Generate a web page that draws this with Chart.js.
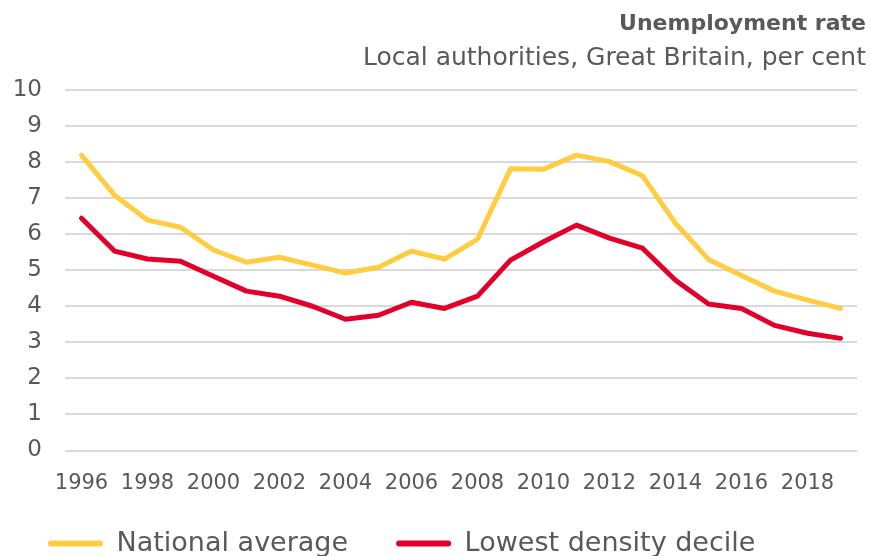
<!DOCTYPE html>
<html>
<head>
<meta charset="utf-8">
<script src="https://cdn.jsdelivr.net/npm/chart.js@4"></script>
<style>
  html, body { margin: 0; padding: 0; background: #fff; overflow: hidden; }
  #wrap { width: 870px; height: 556px; overflow: hidden; }
</style>
</head>
<body>
<div id="wrap"><canvas id="grafico" width="870" height="567"></canvas></div>
<script>
// data
const anos = ['1996', '1997', '1998', '1999', '2000', '2001', '2002', '2003', '2004', '2005', '2006', '2007',
  '2008', '2009', '2010', '2011', '2012', '2013', '2014', '2015', '2016', '2017', '2018', '2019'];
const mediaNacional = [8.19, 7.08, 6.39, 6.19, 5.56, 5.22, 5.36, 5.14, 4.92, 5.08, 5.53, 5.31,
  5.86, 7.81, 7.80, 8.19, 8.01, 7.62, 6.30, 5.30, 4.85, 4.42, 4.17, 3.94];
const menorDensidade = [6.44, 5.53, 5.31, 5.25, 4.83, 4.42, 4.28, 4.00, 3.64, 3.75, 4.11, 3.94,
  4.28, 5.28, 5.79, 6.25, 5.89, 5.61, 4.72, 4.06, 3.94, 3.47, 3.25, 3.11];
const yTicks = [0, 1, 2, 3, 4, 5, 6, 7, 8, 9, 10];

const fonte = "'DejaVu Sans', sans-serif";
const cinza = '#595959';
const amarelo = '#FFCD3F';
const vermelho = '#E2002B';

const data_linha = {
  labels: anos,
  datasets: [{
    label: 'National average',
    data: mediaNacional,
    borderColor: amarelo,
    backgroundColor: amarelo,
    borderWidth: 5,
    borderCapStyle: 'round',
    borderJoinStyle: 'round',
    pointRadius: 0,
    tension: 0
  }, {
    label: 'Lowest density decile',
    data: menorDensidade,
    borderColor: vermelho,
    backgroundColor: vermelho,
    borderWidth: 5,
    borderCapStyle: 'round',
    borderJoinStyle: 'round',
    pointRadius: 0,
    tension: 0
  }]
};

const config_linha = {
  type: 'line',
  data: data_linha,
  options: {
    responsive: false,
    animation: false,
    layout: { padding: { left: 0, right: 4, top: 0, bottom: 0 } },
    plugins: {
      title: {
        display: true,
        text: 'Unemployment rate',
        align: 'end',
        color: cinza,
        font: { family: fonte, size: 22, weight: 'bold', lineHeight: 1.2 },
        padding: { top: 11, bottom: 4 }
      },
      subtitle: {
        display: true,
        text: 'Local authorities, Great Britain, per cent',
        align: 'end',
        color: cinza,
        font: { family: fonte, size: 25, weight: 'normal', lineHeight: 1.2 },
        padding: { top: 2, bottom: 16.5 }
      },
      legend: {
        position: 'bottom',
        align: 'start',
        // empty legend title, only there to pull the legend row up
        title: { display: true, text: '', font: { size: 1, lineHeight: 1 }, padding: { top: -34.7, bottom: 0 } },
        labels: {
          color: cinza,
          font: { family: fonte, size: 27 },
          boxWidth: 55,
          boxHeight: 6,
          useBorderRadius: true,
          borderRadius: 3,
          padding: 48,
          // no outline round the legend swatch, only the filled bar
          generateLabels: (chart) => Chart.defaults.plugins.legend.labels.generateLabels(chart)
            .map(l => ({ ...l, lineWidth: 0 }))
        }
      },
      tooltip: { enabled: false }
    },
    scales: {
      x: {
        offset: true,
        grid: { display: false, drawTicks: false },
        border: { display: false },
        ticks: {
          color: cinza,
          font: { family: fonte, size: 21 },
          autoSkip: false,
          maxRotation: 0,
          padding: 20,
          callback: function (v, i) { return i % 2 === 0 ? anos[i] : ''; }
        }
      },
      y: {
        min: 0,
        max: 10,
        afterFit: (s) => { s.width = 65; },
        afterBuildTicks: (s) => { s.ticks = yTicks.map(v => ({ value: v })); },
        grid: { color: '#D9D9D9', lineWidth: 2, drawTicks: false },
        border: { display: false },
        ticks: {
          color: cinza,
          font: { family: fonte, size: 23 },
          padding: 23
        }
      },
      yr: {
        position: 'right',
        min: 0,
        max: 10,
        afterFit: (s) => { s.width = 9; },
        grid: { display: false, drawTicks: false },
        border: { display: false },
        ticks: { display: false }
      }
    }
  }
};

const grafico = new Chart(document.getElementById('grafico'), config_linha);
</script>
</body>
</html>
